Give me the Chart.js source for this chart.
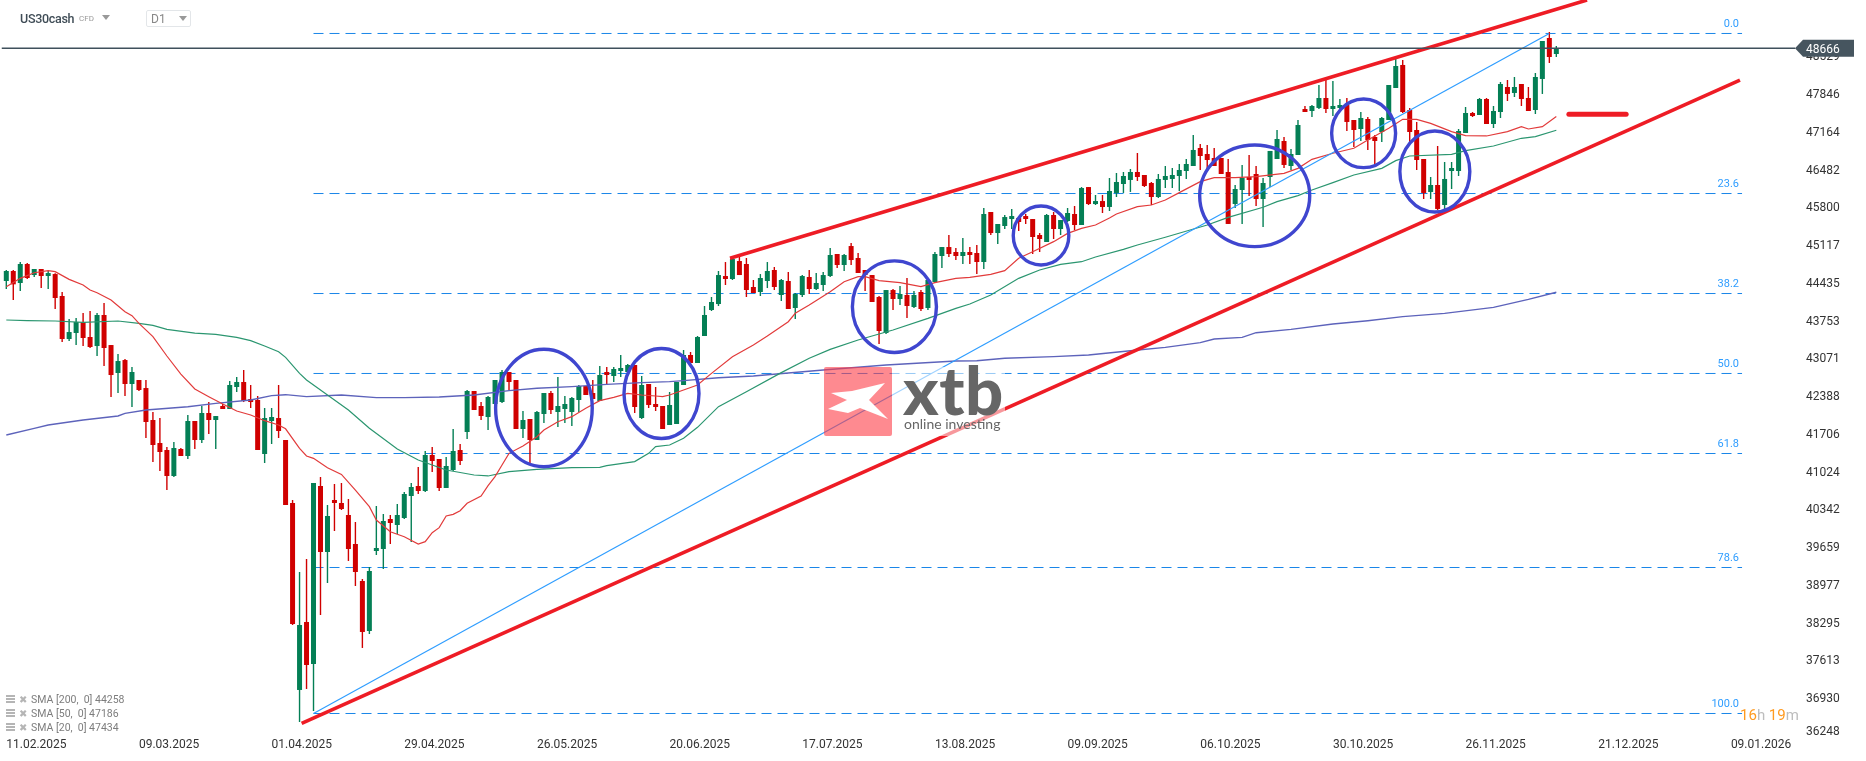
<!DOCTYPE html>
<html>
<head>
<meta charset="utf-8">
<title>US30cash D1</title>
<script src="https://cdn.jsdelivr.net/npm/chart.js@4/dist/chart.umd.min.js"></script>
<style>
html, body { margin: 0; padding: 0; background: #fff; }
body { width: 1866px; height: 761px; position: relative; overflow: hidden; font-family: Roboto, sans-serif; }
canvas { position: absolute; left: 0; top: 0; }
.abs { position: absolute; white-space: pre; }
.tri { position: absolute; width: 0; height: 0; border-left: 4px solid transparent; border-right: 4px solid transparent; border-top: 5px solid #999; }
.legendRow { position: absolute; left: 6px; height: 12px; font-size: 10.5px; line-height: 12px; color: #7d7d7d; white-space: pre; }
.legendRow .ic { position: absolute; left: 0; top: 1px; width: 9px; height: 8px; background: repeating-linear-gradient(#b5b5b5 0 2px, #fff 2px 3px); }
.legendRow .cl { position: absolute; left: 13px; top: 0; color: #b5b5b5; font-size: 10px; }
.legendRow .tx { position: absolute; left: 25px; top: 0; }
</style>
</head>
<body>
<canvas id="chart" width="1866" height="761"></canvas>

<div class="abs" style="left:20px;top:11px;font-size:12.5px;font-weight:500;color:#3f4c56;letter-spacing:-0.3px">US30cash</div>
<div class="abs" style="left:79px;top:14px;font-size:8px;color:#999">CFD</div>
<div class="tri" style="left:102px;top:15px"></div>
<div class="abs" style="left:146px;top:10px;width:43px;height:15px;border:1px solid #e3e6e9;border-radius:2px"></div>
<div class="abs" style="left:151px;top:12px;font-size:12px;color:#888">D1</div>
<div class="tri" style="left:179px;top:16px"></div>

<div class="legendRow" style="top:694px"><span class="ic"></span><span class="cl">✖</span><span class="tx">SMA [200,  0] 44258</span></div>
<div class="legendRow" style="top:708px"><span class="ic"></span><span class="cl">✖</span><span class="tx">SMA [50,  0] 47186</span></div>
<div class="legendRow" style="top:722px"><span class="ic"></span><span class="cl">✖</span><span class="tx">SMA [20,  0] 47434</span></div>

<div class="abs" style="left:1740px;top:706px;font-size:15px;color:#bdbdbd"><span style="color:#ff9a1f">16</span>h <span style="color:#ff9a1f">19</span>m</div>

<!-- xtb watermark -->
<div style="position:absolute;left:824px;top:367px;width:68px;height:69px;background:rgba(254,60,70,0.6);border-radius:2px"><svg width="68" height="69" viewBox="0 0 68 69" style="display:block"><polygon points="7,26 28,24 61,16 45,33 64,52 36,41 24,46 4,42 23,33" fill="#fff"/></svg></div>
<div class="abs" style="left:892px;top:367px;width:113px;height:69px;background:rgba(255,255,255,0.55)"></div>
<div class="abs" style="left:903px;top:354px;font-family:Lato;font-weight:900;font-size:67px;line-height:70px;color:#666;letter-spacing:0.5px">xtb</div>
<div class="abs" style="left:904px;top:414px;font-family:Lato;font-weight:400;font-size:14px;line-height:20px;color:#666">online investing</div>

<script>
// candles, one row of ten per line
const opens = [
44461,44642,44425,44768,44569,44678,44551,44587,44190,43413,
43521,43720,43449,43286,43847,43304,42799,43033,42600,42672,
42527,41949,41534,41407,40937,41425,41299,41931,41588,42076,
41949,42202,42148,42546,42636,42329,42311,41335,41931,41985,
41588,40450,37071,38299,37540,40757,39564,40504,40450,40233,
39709,39040,38137,39582,39618,40160,40052,40178,40576,40757,
40666,41317,41245,40721,41046,41407,41732,42473,42202,42003,
42239,42275,42817,42672,41787,41968,41588,42058,42437,42094,
42148,42094,42311,42564,42437,42293,42817,42745,42835,42817,
42943,41986,42600,42239,42202,41859,41877,42582,43124,42979,
43467,43937,44045,44551,44497,44822,44768,44353,44262,44461,
44660,44208,44461,43973,44208,44533,44316,44389,44551,44949,
44750,45093,44877,44660,44569,44172,43521,44298,44136,44208,
43991,44262,43973,44443,44913,45075,44985,44913,44985,44967,
44804,45708,45328,45455,45581,45599,45635,45581,45292,45166,
45654,45401,45545,45672,45473,46159,45852,45906,45799,46052,
46214,46287,46431,46377,46232,45979,46287,46305,46359,46449,
46539,46865,46756,46684,46684,46431,45853,46106,46341,46395,
45943,46341,46666,46991,46539,46738,47569,47533,47588,47768,
47569,47588,47642,47371,47208,47389,47064,47154,47371,47949,
48365,47551,47190,46666,46070,46196,45835,46449,46449,47136,
47497,47461,47750,47298,47515,47967,47859,48021,47768,47551,
48112,48852,48563];

const closes = [
44642,44401,44768,44515,44678,44551,44605,44154,43413,43539,
43720,43431,43268,43847,43250,42762,43015,42600,42817,42491,
41913,41498,41371,40937,41443,41299,41931,41588,42076,41949,
42021,42148,42582,42636,42293,42274,41407,41985,42004,41751,
40413,38263,38245,37522,40811,39564,40215,40450,40341,39618,
39203,38119,39221,39636,40124,40088,40233,40612,40739,40666,
41317,41208,40721,41118,41389,41208,42473,42130,42022,42365,
42672,42817,42636,41787,41949,41588,42094,42437,42130,42202,
42239,42347,42564,42401,42329,42763,42763,42871,42889,42943,
42184,42582,42221,42184,41787,42221,42636,43124,42979,43449,
43847,44082,44569,44497,44858,44569,44298,44244,44515,44642,
44353,44479,43955,44226,44551,44316,44425,44569,44931,44750,
44931,44840,44606,44569,44082,43558,44298,44136,44226,44009,
44208,43955,44479,44949,45075,44949,44913,44985,44931,44804,
45672,45328,45491,45617,45635,45527,45581,45256,45220,45654,
45401,45563,45690,45473,46141,45852,45906,45798,46088,46250,
46359,46431,46341,46178,45979,46305,46359,46377,46467,46576,
46829,46720,46648,46539,46395,45492,46124,46323,46287,45943,
46232,46811,47027,46558,46756,47280,47515,47624,47768,47569,
47624,47642,47335,47190,47407,47009,46991,47407,48003,48346,
47515,47154,46648,46052,46196,45763,46305,46503,47172,47497,
47443,47750,47298,47533,48021,47841,47967,47750,47533,48148,
48798,48509,48666];

const highs = [
44660,44660,44804,44786,44678,44678,44642,44599,44262,43774,
43792,43883,43919,43883,44063,43304,43142,43051,42907,42672,
42672,42094,41985,41461,41552,41443,42040,41931,42202,42275,
42021,42238,42654,42726,42853,42582,42383,42166,42166,42582,
41588,40504,39203,39438,40811,40919,40413,40793,40811,40522,
40106,39076,39293,40395,40251,40233,40431,40648,40811,41100,
41389,41461,41245,41281,41787,41516,42491,42473,42274,42383,
42672,42853,42817,42672,42112,41968,42112,42437,42473,42726,
42383,42365,42582,42564,42672,42925,42907,42907,43124,42961,
42943,42745,42600,42546,42202,42455,42636,43214,43178,43467,
44009,44172,44642,44804,44877,44913,44877,44479,44587,44804,
44714,44497,44624,44244,44569,44660,44606,44624,45057,44949,
44949,45148,44967,44660,44569,44190,44298,44316,44371,44515,
44280,44298,44479,44985,45075,45292,45057,45238,45075,45111,
45780,45708,45491,45654,45762,45599,45672,45581,45328,45672,
45708,45563,45780,45816,46159,46159,46015,46015,46323,46413,
46431,46485,46774,46377,46250,46395,46539,46503,46576,46666,
47100,46937,46919,46865,46684,46666,46196,46558,46738,46539,
46323,46811,47190,47064,46847,47371,47624,47642,48003,48093,
48075,47750,47768,47371,47515,47425,47100,47425,48003,48473,
48455,47588,47335,46666,46341,46901,46612,46612,47208,47606,
47515,47768,47768,47624,48057,48093,48148,48021,47967,48220,
48798,48961,48708];

const lows = [
44316,44118,44280,44497,44533,44334,44316,43955,43359,43377,
43304,43286,43250,43106,42925,42365,42437,42383,42184,42473,
41624,41190,41028,40684,40919,41299,41245,41425,41534,41696,
41425,42148,42148,42455,42274,42166,41407,41172,41516,41624,
40413,38245,36492,37089,36691,38426,39004,39944,40323,39402,
38950,37830,38082,39510,39257,39709,39889,40160,39745,40612,
40648,41010,40666,40721,41028,41136,41606,42130,41949,41769,
42239,42257,42492,41787,41624,41173,41588,41895,42058,41823,
41895,41841,42094,42401,42329,42293,42582,42636,42726,42817,
42076,41968,42166,42112,41787,41859,41877,42582,42979,42979,
43467,43919,44009,44389,44479,44569,44172,44244,44190,44334,
44298,44100,43955,43774,44172,44226,44298,44280,44533,44696,
44642,44750,44606,44280,44082,43323,43503,43937,44027,43792,
43973,43919,43937,44425,44696,44895,44840,44768,44768,44587,
44678,45292,45130,45401,45401,45364,45491,44949,44985,45166,
45220,45292,45527,45382,45473,45834,45834,45690,45726,45979,
46052,46070,46269,46160,45835,45961,46142,46142,46088,46305,
46539,46467,46467,46539,46395,45492,45781,45492,45997,45817,
45437,46160,46666,46503,46467,46738,47515,47425,47569,47497,
47443,47569,47172,46883,46991,46829,46558,46973,47371,47949,
47497,46955,46467,45943,45943,45745,45745,46124,46359,47136,
47425,47461,47298,47226,47407,47714,47786,47624,47533,47479,
47841,48401,48509];

// moving averages, read at the bars where the curve could be read
const sma20Bars = [0,2,4,6,7,9,11,12,13,15,17,18,19,21,23,25,27,29,31,33,35,37,39,40,42,43,44,46,48,50,52,53,55,57,59,60,61,62,63,64,65,66,68,69,70,71,72,74,76,77,79,81,83,85,87,89,91,93,94,95,97,99,101,104,107,109,112,113,115,118,120,122,123,125,128,131,133,136,138,141,143,145,147,150,152,154,156,158,159,162,164,166,168,171,173,176,179,183,185,187,190,193,195,198,200,202,204,207,209,212,215,217,218,220,222];
const sma20Values = [44358,44509,44611,44648,44630,44491,44389,44298,44250,44118,43907,43834,43696,43455,43106,42780,42509,42371,42238,42112,42040,41937,41859,41790,41437,41299,41257,41088,40967,40684,40383,40142,39931,39841,39709,39751,39913,40004,40215,40245,40311,40444,40576,40763,40926,41136,41347,41480,41648,41769,41919,42010,42160,42299,42359,42431,42401,42383,42371,42401,42492,42582,42792,43094,43305,43467,43726,43877,44027,44268,44449,44539,44539,44467,44431,44359,44431,44509,44527,44581,44648,44871,44991,45172,45322,45413,45473,45600,45672,45805,45835,45925,46058,46256,46329,46329,46347,46407,46497,46660,46769,46859,47009,47220,47383,47383,47310,47160,47088,47082,47160,47250,47208,47250,47434];

const sma50Bars = [0,3,7,11,16,19,21,23,27,30,33,35,37,39,40,42,43,46,49,52,56,59,63,67,69,72,76,81,85,86,90,92,93,95,97,99,102,106,111,115,118,122,127,132,136,138,141,145,148,151,154,156,160,162,166,172,175,180,182,185,187,190,193,197,199,201,207,209,213,217,219,222];
const sma50Values = [43756,43744,43738,43714,43738,43696,43660,43588,43521,43497,43443,43383,43286,43184,43082,42793,42672,42401,42130,41799,41425,41226,41046,40956,40938,41016,41058,41088,41094,41124,41197,41347,41468,41498,41618,41817,42190,42461,42805,43064,43226,43395,43576,43786,43967,44045,44208,44509,44660,44762,44810,44895,45034,45112,45251,45473,45612,45793,45895,46004,46106,46238,46377,46497,46636,46720,46750,46817,46901,47040,47070,47186];

const sma200Bars = [0,4,6,11,16,17,20,26,30,35,38,40,43,48,53,57,62,67,72,76,81,86,91,95,97,102,107,117,126,136,139,143,150,155,161,166,171,173,177,179,184,190,195,200,206,213,218,222];
const sma200Values = [41678,41799,41859,41949,42022,42070,42130,42190,42250,42311,42389,42407,42371,42401,42353,42353,42365,42401,42480,42522,42552,42594,42624,42642,42660,42714,42745,42853,42943,43015,43021,43064,43094,43124,43202,43262,43347,43413,43443,43527,43588,43684,43744,43817,43877,43985,44130,44258];

// fibonacci retracement
const fibNames = ['0.0','23.6','38.2','50.0','61.8','78.6','100.0'];
const fibPrices = [48934,46042,44235,42790,41344,39284,36646];
const fibBars = [44,248.6];
const fibTrendBars = [44,221];
const fibTrendPrices = [36646,48934];

// hand drawn channel and marker
const upperBars = [103.65,226.4];
const upperPrices = [44871,49539];
const lowerBars = [42.3,248.3];
const lowerPrices = [36469,48093];
const markerBars = [223.8,232];
const markerPrices = [47473,47473];

// hand drawn circles
const circleBars = [77,93.84,127.2,148.2,178.8,194.4,204.6];
const circlePrices = [42166,42428,43997,45283,46001,47130,46440];
const circleBarRadius = [6.92,5.37,6.02,3.98,7.88,4.58,5.01];
const circlePriceRadius = [1061,813,828,533,918,620,732];

const lastPrice = 48666;
const priceLineBars = [-0.65,256.2];

const yTickValues = [48529,47846,47164,46482,45800,45117,44435,43753,43071,42388,41706,41024,40342,39659,38977,38295,37613,36930,36330];
const yTickLabels = ['48529','47846','47164','46482','45800','45117','44435','43753','43071','42388','41706','41024','40342','39659','38977','38295','37613','36930','36248'];
const xTickBars = [0,19,38,57,76,95,114,133,152,171,190,209,228,247];
const xTickLabels = ['11.02.2025','09.03.2025','01.04.2025','29.04.2025','26.05.2025','20.06.2025','17.07.2025','13.08.2025','09.09.2025','06.10.2025','30.10.2025','26.11.2025','21.12.2025','09.01.2026'];

const GREEN = '#047f55';
const RED = '#d00000';

const candleColors = opens.map((o, i) => closes[i] >= o ? GREEN : RED);
const toPoints = (bars, values) => bars.map((b, i) => ({x: b, y: values[i]}));

function lineSet(points, color, width, order, extra) {
    return Object.assign({
        type: 'line',
        data: points,
        borderColor: color,
        borderWidth: width,
        pointRadius: 0,
        tension: 0,
        order: order
    }, extra || {});
}

const datasets = [];

fibPrices.forEach(p => {
    datasets.push(lineSet(toPoints(fibBars, [p, p]), '#1a86e8', 1, 9, {borderDash: [10, 6]}));
});

datasets.push({
    type: 'bar',
    data: opens.map((o, i) => ({x: i, y: [lows[i], highs[i]]})),
    backgroundColor: candleColors,
    barThickness: 1.4,
    grouped: false,
    inflateAmount: 0,
    order: 8
});
datasets.push({
    type: 'bar',
    data: opens.map((o, i) => ({x: i, y: [o, closes[i]]})),
    backgroundColor: candleColors,
    barThickness: 5,
    grouped: false,
    inflateAmount: 0,
    order: 7
});

datasets.push(lineSet(toPoints(sma200Bars, sma200Values), '#5d63bb', 1.4, 6));
datasets.push(lineSet(toPoints(sma50Bars, sma50Values), '#2b9670', 1.2, 5));
datasets.push(lineSet(toPoints(sma20Bars, sma20Values), '#e23b3b', 1.2, 4));
datasets.push(lineSet(toPoints(fibTrendBars, fibTrendPrices), '#2f9dff', 1.2, 3));
datasets.push(lineSet(toPoints(upperBars, upperPrices), '#ee1c25', 3.6, 2));
datasets.push(lineSet(toPoints(lowerBars, lowerPrices), '#ee1c25', 3.6, 2));
datasets.push(lineSet(toPoints(markerBars, markerPrices), '#ee1c25', 5, 2, {borderCapStyle: 'round'}));
datasets.push(lineSet(toPoints(priceLineBars, [lastPrice, lastPrice]), '#3f505c', 1.5, 1));

const overlays = {
    id: 'overlays',
    afterDatasetsDraw(chart) {
        const x = chart.scales.x, y = chart.scales.y, ctx = chart.ctx;
        ctx.save();
        // circles
        ctx.strokeStyle = '#3f46cf';
        ctx.lineWidth = 3.4;
        circleBars.forEach((b, i) => {
            const rx = x.getPixelForValue(b + circleBarRadius[i]) - x.getPixelForValue(b);
            const ry = y.getPixelForValue(circlePrices[i] - circlePriceRadius[i]) - y.getPixelForValue(circlePrices[i]);
            ctx.beginPath();
            ctx.ellipse(x.getPixelForValue(b), y.getPixelForValue(circlePrices[i]), rx, ry, 0, 0, Math.PI * 2);
            ctx.stroke();
        });
        // fibo names
        ctx.fillStyle = '#2f9dff';
        ctx.font = '11px Roboto';
        ctx.textAlign = 'right';
        ctx.textBaseline = 'middle';
        fibNames.forEach((n, i) => {
            ctx.fillText(n, x.getPixelForValue(fibBars[1]) - 3, y.getPixelForValue(fibPrices[i]) - 9);
        });
        ctx.restore();
    },
    afterDraw(chart) {
        const y = chart.scales.y, ctx = chart.ctx;
        const py = y.getPixelForValue(lastPrice);
        ctx.save();
        ctx.fillStyle = '#46555f';
        ctx.beginPath();
        ctx.moveTo(1795, py);
        ctx.lineTo(1803, py - 8.5);
        ctx.lineTo(1854, py - 8.5);
        ctx.lineTo(1854, py + 8.5);
        ctx.lineTo(1803, py + 8.5);
        ctx.closePath();
        ctx.fill();
        ctx.fillStyle = '#fff';
        ctx.font = '12px Roboto';
        ctx.textBaseline = 'middle';
        ctx.fillText(String(lastPrice), 1806, py + 1.5);
        ctx.restore();
    }
};

Chart.defaults.font.family = 'Roboto';

new Chart(document.getElementById('chart').getContext('2d'), {
    type: 'bar',
    data: {datasets: datasets},
    plugins: [overlays],
    options: {
        responsive: false,
        animation: false,
        events: [],
        layout: {padding: 0},
        plugins: {legend: {display: false}, tooltip: {enabled: false}},
        scales: {
            x: {
                type: 'linear',
                min: -0.902,
                max: 256.9,
                offset: false,
                grid: {display: false, drawTicks: false},
                border: {display: false},
                afterFit: s => { s.height = 23; s.paddingLeft = 0; s.paddingRight = 0; },
                afterBuildTicks: s => { s.ticks = xTickBars.map(v => ({value: v})); },
                ticks: {
                    autoSkip: false,
                    maxRotation: 0,
                    align: 'start',
                    padding: 0,
                    color: '#333',
                    font: {size: 12},
                    callback: v => xTickLabels[xTickBars.indexOf(v)]
                }
            },
            y: {
                type: 'linear',
                position: 'right',
                min: 36203,
                max: 49539,
                grid: {display: false, drawTicks: false},
                border: {display: false},
                afterFit: s => { s.width = 66; s.paddingTop = 0; s.paddingBottom = 0; },
                afterBuildTicks: s => { s.ticks = yTickValues.map(v => ({value: v})); },
                ticks: {
                    autoSkip: false,
                    padding: 6,
                    labelOffset: 1.5,
                    color: '#333',
                    font: {size: 12},
                    callback: v => yTickLabels[yTickValues.indexOf(v)]
                }
            }
        }
    }
});
</script>
</body>
</html>
